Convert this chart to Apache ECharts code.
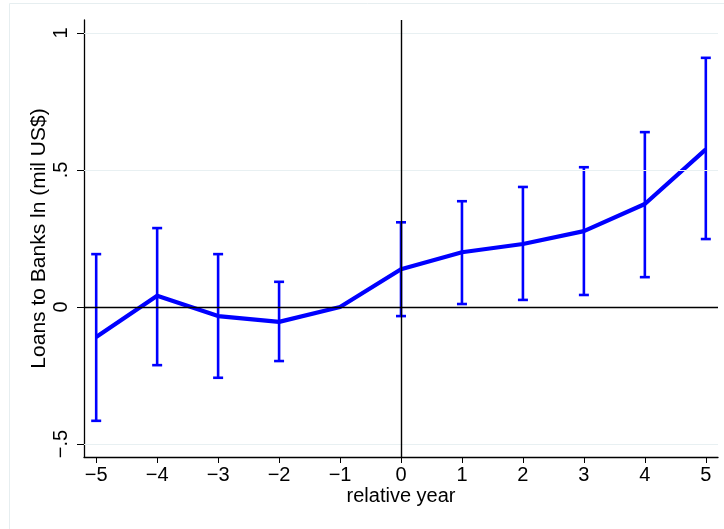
<!DOCTYPE html>
<html>
<head>
<meta charset="utf-8">
<script src="https://cdn.jsdelivr.net/npm/echarts@6/dist/echarts.min.js"></script>
<style>html,body{margin:0;padding:0;background:#fff}#c{width:724px;height:529px}</style>
</head>
<body>
<div id="c"></div>
<script>
var years = [-5, -4, -3, -2, -1, 0, 1, 2, 3, 4, 5];
var coef = [-0.109, 0.041, -0.033, -0.054, 0, 0.138, 0.200, 0.230, 0.277, 0.376, 0.575];
var ciLow = [-0.415, -0.212, -0.258, -0.197, null, -0.033, 0.011, 0.026, 0.044, 0.109, 0.248];
var ciHigh = [0.193, 0.288, 0.193, 0.092, null, 0.309, 0.386, 0.438, 0.510, 0.638, 0.909];
var xTicks = [-5, -4, -3, -2, -1, 0, 1, 2, 3, 4, 5];
var yTicks = [-0.5, 0, 0.5, 1];

function fmtY(v) {
  if (v === 0) return '0';
  if (v === 1) return '1';
  var s = Math.abs(v).toString().replace(/^0/, '');
  return (v < 0 ? '\u2212' : '') + s;
}
function fmtX(v) { return (v < 0 ? '\u2212' : '') + Math.abs(v); }

var lineData = years.map(function (y, i) { return [y, coef[i]]; });
var errData = [];
years.forEach(function (y, i) {
  if (ciLow[i] !== null && ciHigh[i] !== null) errData.push([y, ciLow[i], ciHigh[i]]);
});

var font = 'Liberation Sans, Arial, Helvetica, sans-serif';
var chart = echarts.init(document.getElementById('c'), null, {renderer: 'canvas'});
chart.setOption({
  animation: false,
  backgroundColor: '#fff',
  graphic: [{
    type: 'rect', silent: true, z: -10,
    shape: {x: 9.5, y: 3.5, width: 730, height: 540},
    style: {fill: 'none', stroke: '#e6eef0', lineWidth: 1}
  }],
  grid: {left: 84, right: 6, top: 20, bottom: 72, containLabel: false},
  xAxis: {
    type: 'value', min: -5.2, max: 5.2,
    name: 'relative year', nameLocation: 'middle', nameGap: 29, nameMoveOverlap: false,
    nameTextStyle: {color: '#000', fontSize: 20, fontFamily: font},
    axisLine: {show: true, onZero: false, lineStyle: {color: '#000', width: 1.3}},
    axisTick: {show: true, length: 6, customValues: xTicks, lineStyle: {color: '#000', width: 1}},
    axisLabel: {customValues: xTicks, formatter: fmtX, color: '#000', fontSize: 20, fontFamily: font, margin: 8},
    splitLine: {show: false}
  },
  yAxis: {
    type: 'value', min: -0.547, max: 1.047,
    name: 'Loans to Banks ln (mil US$)', nameLocation: 'middle', nameGap: 34, nameMoveOverlap: false,
    nameTextStyle: {color: '#000', fontSize: 21, fontFamily: font},
    axisLine: {show: true, onZero: false, lineStyle: {color: '#000', width: 1.3}},
    axisTick: {show: true, length: 7, customValues: yTicks, lineStyle: {color: '#000', width: 1}},
    axisLabel: {customValues: yTicks, formatter: fmtY, rotate: 90, color: '#000', fontSize: 20, fontFamily: font, margin: 13},
    splitLine: {show: false}
  },
  series: [
    {
      type: 'line', data: [], silent: true,
      markLine: {
        silent: true, symbol: 'none', label: {show: false},
        lineStyle: {color: '#e8f0f2', width: 1, type: 'solid'},
        data: [{yAxis: -0.5}, {yAxis: 0.5}, {yAxis: 1}]
      }
    },
    {
      type: 'line', data: [], silent: true,
      markLine: {
        silent: true, symbol: 'none', label: {show: false},
        lineStyle: {color: '#000', width: 1.4, type: 'solid'},
        data: [{yAxis: 0}, {xAxis: 0}]
      }
    },
    {
      type: 'custom', data: errData, z: 3,
      renderItem: function (params, api) {
        var x = api.value(0);
        var lo = api.coord([x, api.value(1)]);
        var hi = api.coord([x, api.value(2)]);
        var hw = 5;
        var st = {stroke: '#0000ff', lineWidth: 2.6};
        return {
          type: 'group',
          children: [
            {type: 'line', shape: {x1: lo[0], y1: lo[1], x2: hi[0], y2: hi[1]}, style: st},
            {type: 'line', shape: {x1: lo[0] - hw, y1: lo[1], x2: lo[0] + hw, y2: lo[1]}, style: st},
            {type: 'line', shape: {x1: hi[0] - hw, y1: hi[1], x2: hi[0] + hw, y2: hi[1]}, style: st}
          ]
        };
      }
    },
    {
      type: 'line', data: lineData, z: 4, symbol: 'none',
      lineStyle: {color: '#0000ff', width: 4.2},
      itemStyle: {color: '#0000ff'}
    }
  ]
});
</script>
</body>
</html>
